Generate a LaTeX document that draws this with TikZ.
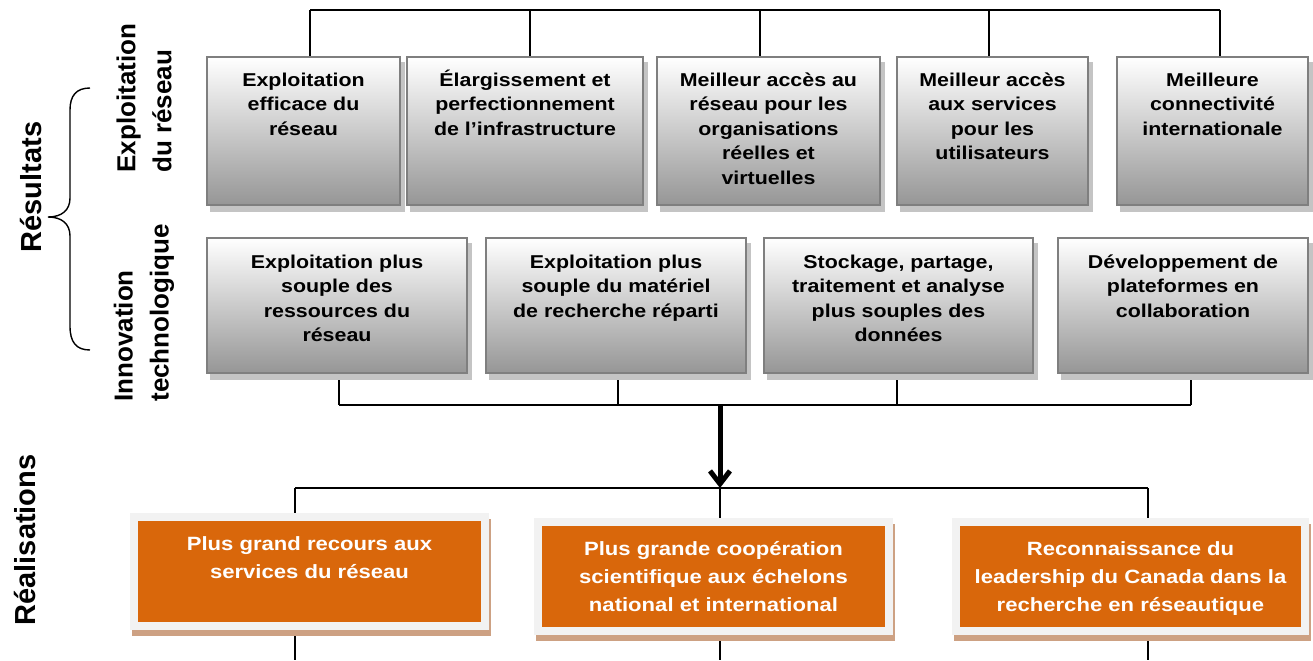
\documentclass[tikz,border=0pt]{standalone}
\usepackage{fontspec}
\setmainfont{Liberation Sans}[FakeStretch=1.15]
\newfontfamily\sidefont{Liberation Sans}
\usetikzlibrary{shadows,arrows.meta,backgrounds}
\definecolor{boxborder}{HTML}{7F7F7F}
\definecolor{boxbottom}{HTML}{969696}
\definecolor{boxshadow}{HTML}{C4C4C4}
\definecolor{realfill}{HTML}{D9670B}
\definecolor{realframe}{HTML}{F2F2F2}
\definecolor{realshadow}{HTML}{CDA183}
% top aligned text block: [first baseline]{width}{height}{text}
\newcommand{\cell}[4][14.5pt]{\parbox[c][#3][t]{#2}{\centering\rule{0pt}{#1}#4}}
\tikzset{
	result box/.style={
		draw=boxborder,
		line width=1pt,
		top color=white,
		bottom color=boxbottom,
		inner sep=0pt,
		font=\fontsize{9.3}{12.3}\selectfont\bfseries,
		drop shadow={shadow xshift=2pt,shadow yshift=-3pt,fill=boxshadow,draw=boxshadow,line width=1pt,opacity=1}
	},
	outcome box/.style={
		draw=realframe,
		line width=4pt,
		fill=realfill,
		inner sep=0pt,
		text=white,
		font=\fontsize{9.6}{14}\selectfont\bfseries,
		drop shadow={shadow xshift=1pt,shadow yshift=-3pt,fill=realshadow,draw=realshadow,line width=4pt,opacity=1}
	},
	side label/.style={
		rotate=90,
		inner sep=0pt,
		align=left,
		font=\sidefont\fontsize{13}{18}\selectfont\bfseries
	},
	group label/.style={
		side label,
		font=\sidefont\fontsize{14.5}{18}\selectfont\bfseries
	},
	bus/.style={line width=1pt}
}

\begin{document}
\begin{tikzpicture}[x=0.5pt,y=-0.5pt]
	\useasboundingbox (0,0) rectangle (1313,660);
	% left labels
	\node[group label] (resultats) at (31,187) {Résultats};
	\node[group label] (realisations) at (25,540) {Réalisations};
	\node[side label,anchor=west] (exploitation) at (144,173) {Exploitation\\du réseau};
	\node[side label,anchor=west] (innovation) at (144,402) {Innovation\\technologique};
	\draw[line width=0.7pt] (90,88) .. controls (76,88) and (70,96) .. (70,110) -- (70,198)
		.. controls (70,210) and (62,217) .. (48,217) .. controls (62,217) and (70,224) .. (70,236)
		-- (70,326) .. controls (70,342) and (76,350) .. (90,350);
	% exploitation du reseau
	\node[result box] (t1) at (303.5,131) {\cell{96.5pt}{74pt}{Exploitation\\efficace du\\réseau}};
	\node[result box] (t2) at (525,131) {\cell{118pt}{74pt}{Élargissement et\\perfectionnement\\de l’infrastructure}};
	\node[result box] (t3) at (768.5,131) {\cell{111.5pt}{74pt}{Meilleur accès au\\réseau pour les\\organisations\\réelles et\\virtuelles}};
	\node[result box] (t4) at (992.5,131) {\cell{95.5pt}{74pt}{Meilleur accès\\aux services\\pour les\\utilisateurs}};
	\node[result box] (t5) at (1212.5,131) {\cell{95.5pt}{74pt}{Meilleure\\connectivité\\internationale}};
	% innovation technologique
	\node[result box] (b1) at (337,305.5) {\cell[15pt]{130pt}{67.5pt}{Exploitation plus\\souple des\\ressources du\\réseau}};
	\node[result box] (b2) at (616,305.5) {\cell[15pt]{130pt}{67.5pt}{Exploitation plus\\souple du matériel\\de recherche réparti}};
	\node[result box] (b3) at (898.5,305.5) {\cell[15pt]{134.5pt}{67.5pt}{Stockage, partage,\\traitement et analyse\\plus souples des\\données}};
	\node[result box] (b4) at (1183,305.5) {\cell[15pt]{125pt}{67.5pt}{Développement de\\plateformes en\\collaboration}};
	% realisations
	\node[outcome box] (r1) at (309.5,571.5) {\cell[16.5pt]{175.5pt}{54.5pt}{Plus grand recours aux\\services du réseau}};
	\node[outcome box] (r2) at (713.5,576.5) {\cell[16.5pt]{175.5pt}{54.5pt}{Plus grande coopération\\scientifique aux échelons\\national et international}};
	\node[outcome box] (r3) at (1130.5,576.5) {\cell[16.5pt]{174.5pt}{54.5pt}{Reconnaissance du\\leadership du Canada dans la\\recherche en réseautique}};
	% connectors
	\coordinate (tb1) at (310,10);
	\coordinate (tb2) at (530,10);
	\coordinate (tb3) at (760,10);
	\coordinate (tb4) at (989,10);
	\coordinate (tb5) at (1220,10);
	\coordinate (mb1) at (339,405);
	\coordinate (mb2) at (618,405);
	\coordinate (mb3) at (897,405);
	\coordinate (mb4) at (1191,405);
	\coordinate (arrow top) at (720,405);
	\coordinate (lb1) at (295,488);
	\coordinate (lb2) at (720,488);
	\coordinate (lb3) at (1148,488);
	\coordinate (fb1) at (295,660);
	\coordinate (fb2) at (720,660);
	\coordinate (fb3) at (1148,660);
	\begin{scope}[on background layer]
		\draw[bus] (tb1) -- (tb5);
		\foreach \i in {1,...,5}
			\draw[bus] (tb\i) -- (tb\i |- t\i.north);
		\draw[bus] (mb1) -- (mb4);
		\foreach \i in {1,...,4}
			\draw[bus] (mb\i |- b\i.south) -- (mb\i);
		\draw[bus] (lb1) -- (lb3);
		\foreach \i in {1,2,3} {
			\draw[bus] (lb\i) -- (lb\i |- r\i.north);
			\draw[bus] (lb\i |- r\i.south) -- (fb\i);
		}
	\end{scope}
	\draw[line width=2.5pt,-{Straight Barb[length=6.5pt,width=10pt]}] (arrow top) -- (lb2);
\end{tikzpicture}
\end{document}
